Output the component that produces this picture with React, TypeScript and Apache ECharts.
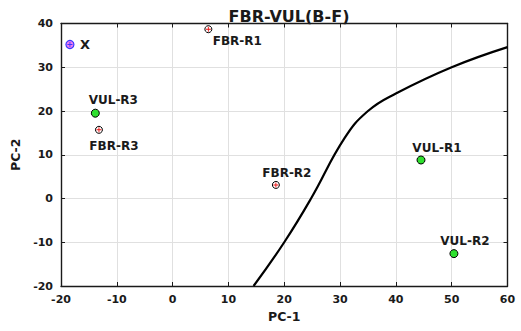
import React, { useEffect, useRef } from "react";
import * as echarts from "echarts";

// Sample scores on the first two principal components
const fbrNames = ["FBR-R1", "FBR-R2", "FBR-R3"];
const fbrPC1 = [6.4, 18.5, -13.2];
const fbrPC2 = [38.7, 3.1, 15.7];

const vulNames = ["VUL-R1", "VUL-R2", "VUL-R3"];
const vulPC1 = [44.5, 50.4, -13.85];
const vulPC2 = [8.8, -12.6, 19.5];

const unknownNames = ["X"];
const unknownPC1 = [-18.4];
const unknownPC2 = [35.2];

// Decision boundary between the two classes
const boundaryPC1 = [14.5, 20, 24.8, 30.8, 35, 40, 50, 60];
const boundaryPC2 = [-20, -10, 0, 13.8, 20, 24, 30, 34.6];

// Axis ranges
const xMin = -20, xMax = 60, yMin = -20, yMax = 40, step = 10;

// Label placement per point name: [dx, dy] in pixels from the marker
const labelOffsets: Record<string, [number, number]> = {
  "FBR-R1": [29, 12],
  "FBR-R2": [11, -12],
  "FBR-R3": [15, 16],
  "VUL-R1": [16, -12.5],
  "VUL-R2": [11, -13],
  "VUL-R3": [18, -13],
  X: [15, 0],
};

const FONT = "DejaVu Sans";
const INK = "#1a1a1a";
const PLUS = "path://M-0.9,-5h1.8v10h-1.8zM-5,-0.9h10v1.8h-10z";

const points = (names: string[], xs: number[], ys: number[], withLabel: boolean) =>
  names.map((n, i) => ({
    name: n,
    value: [xs[i], ys[i]],
    label: withLabel
      ? {
          show: true,
          formatter: n,
          position: "inside",
          offset: labelOffsets[n],
          fontFamily: FONT,
          fontWeight: "bold",
          fontSize: n === "X" ? 13 : 12,
          color: INK,
        }
      : { show: false },
  }));

export default function App() {
  const ref = useRef<HTMLDivElement>(null);

  useEffect(() => {
    if (!ref.current) return;
    const chart = echarts.init(ref.current, undefined, { renderer: "svg" });

    const tickCommon = {
      axisTick: { show: true, inside: true, length: 4, lineStyle: { color: INK, width: 1 } },
      axisLine: { show: true, onZero: false, lineStyle: { color: INK, width: 1.4 } },
    };

    chart.setOption({
      animation: false,
      backgroundColor: "#ffffff",
      title: {
        text: "FBR-VUL(B-F)",
        left: 284,
        top: 3,
        textAlign: "center",
        textStyle: { fontFamily: FONT, fontWeight: "bold", fontSize: 16, color: INK },
      },
      grid: { left: 61, top: 23.5, width: 446.5, height: 262.5, show: false },
      xAxis: [
        {
          type: "value",
          min: xMin,
          max: xMax,
          interval: step,
          position: "bottom",
          name: "PC-1",
          nameLocation: "middle",
          nameGap: 23,
          nameTextStyle: { fontFamily: FONT, fontWeight: "bold", fontSize: 12.5, color: INK },
          axisLabel: { fontFamily: FONT, fontWeight: "bold", fontSize: 11, color: INK, margin: 8 },
          splitLine: { show: true, lineStyle: { color: "#e0e0e0", width: 1 } },
          ...tickCommon,
        },
        {
          type: "value",
          min: xMin,
          max: xMax,
          interval: step,
          position: "top",
          axisLabel: { show: false },
          splitLine: { show: false },
          ...tickCommon,
        },
      ],
      yAxis: [
        {
          type: "value",
          min: yMin,
          max: yMax,
          interval: step,
          position: "left",
          name: "PC-2",
          nameLocation: "middle",
          nameGap: 30,
          nameTextStyle: { fontFamily: FONT, fontWeight: "bold", fontSize: 12.5, color: INK },
          axisLabel: { fontFamily: FONT, fontWeight: "bold", fontSize: 11, color: INK, margin: 8 },
          splitLine: { show: true, lineStyle: { color: "#e0e0e0", width: 1 } },
          ...tickCommon,
        },
        {
          type: "value",
          min: yMin,
          max: yMax,
          interval: step,
          position: "right",
          axisLabel: { show: false },
          splitLine: { show: false },
          ...tickCommon,
        },
      ],
      series: [
        {
          type: "line",
          data: boundaryPC1.map((x, i) => [x, boundaryPC2[i]]),
          smooth: 0.45,
          showSymbol: false,
          symbol: "none",
          lineStyle: { color: "#000000", width: 2.2 },
          silent: true,
          z: 2,
        },
        {
          type: "scatter",
          symbol: "circle",
          symbolSize: 7,
          itemStyle: { color: "#ffffff", borderColor: "#000000", borderWidth: 1, opacity: 1 },
          data: points(fbrNames, fbrPC1, fbrPC2, true),
          z: 3,
        },
        {
          type: "scatter",
          symbol: PLUS,
          symbolSize: 5,
          itemStyle: { color: "#ee1111", opacity: 1 },
          data: points(fbrNames, fbrPC1, fbrPC2, false),
          silent: true,
          z: 4,
        },
        {
          type: "scatter",
          symbol: "circle",
          symbolSize: 8,
          itemStyle: { color: "#2ee02e", borderColor: "#000000", borderWidth: 1, opacity: 1 },
          data: points(vulNames, vulPC1, vulPC2, true),
          z: 3,
        },
        {
          type: "scatter",
          symbol: "circle",
          symbolSize: 8,
          itemStyle: { color: "#f07cf0", borderColor: "#3b3bff", borderWidth: 1.2, opacity: 1 },
          data: points(unknownNames, unknownPC1, unknownPC2, true),
          z: 3,
        },
        {
          type: "scatter",
          symbol: PLUS,
          symbolSize: 5,
          itemStyle: { color: "#3b3bff", opacity: 1 },
          data: points(unknownNames, unknownPC1, unknownPC2, false),
          silent: true,
          z: 4,
        },
      ],
    });

    return () => chart.dispose();
  }, []);

  return (
    <div
      ref={ref}
      style={{ position: "absolute", left: 0, top: 0, width: 521, height: 331, background: "#fff" }}
    />
  );
}
